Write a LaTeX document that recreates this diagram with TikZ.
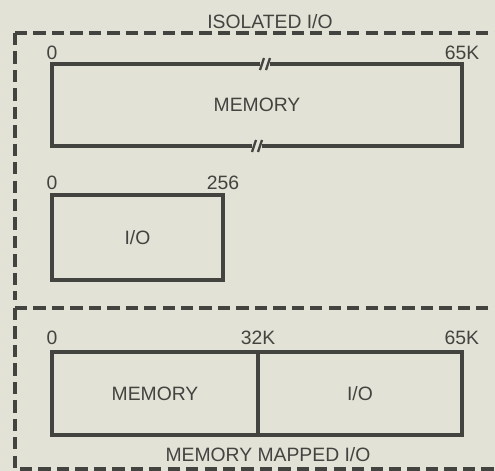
\documentclass[tikz,border=0pt]{standalone}
\usepackage{fontspec}
\setmainfont{Liberation Sans}
\usetikzlibrary{positioning}
\definecolor{paperbg}{HTML}{E3E2D6}
\definecolor{inkline}{HTML}{434340}

\begin{document}
\begin{tikzpicture}[x=0.02cm, y=-0.02cm,
  blk/.style={draw=inkline, line width=1.9pt, inner sep=0pt, outer sep=0pt, minimum height=1.66cm, font=\fontsize{11}{13}\selectfont\color{inkline}},
  lbl/.style={inner sep=1pt, font=\fontsize{11}{13}\selectfont\color{inkline}},
  frame/.style={draw=inkline, line width=1.8pt, dash pattern=on 7pt off 3.5pt},
  brk/.style={draw=inkline, line width=1.3pt}
]
\fill[paperbg] (0,0) rectangle (495,471);
\useasboundingbox (0,0) rectangle (495,471);

\coordinate (isoTL) at (15,33);
\coordinate (isoBL) at (15,300);
\coordinate (mmTL) at (15,308);
\coordinate (mmBL) at (15,469);
\coordinate (isoTR) at (500,33);
\coordinate (mmTR) at (500,308);
\coordinate (mmBR) at (500,469);

\draw[frame] (isoTL) -- (isoTR);
\draw[frame] (isoTL) -- (isoBL);
\draw[frame] (mmTL) -- (mmTR);
\draw[frame] (mmTL) -- (mmBL) -- (mmBR);

\node[lbl, above=1pt] (isotitle) at (isoTL -| 270,0) {ISOLATED I/O};
\node[lbl] (mmtitle) at (268,455) {MEMORY MAPPED I/O};

\node[blk, minimum width=8.2cm, minimum height=1.64cm] (mem) at (257,105) {MEMORY};
\node[blk, minimum width=3.42cm, minimum height=1.7cm] (io) at (137.5,237.5) {I/O};
\node[blk, minimum width=4.12cm] (mmem) at (155,393.5) {MEMORY};
\node[blk, minimum width=4.08cm, right=0pt of mmem] (mio) {I/O};

\fill[paperbg, shift={(mem.north)}] (3,-3) rectangle (13,3);
\draw[brk, shift={(mem.north)}] (3,6) -- (7,-6) (9,6) -- (13,-6);
\fill[paperbg, shift={(mem.south)}] (-5,-3) rectangle (5,3);
\draw[brk, shift={(mem.south)}] (-5,6) -- (-1,-6) (1,6) -- (5,-6);

\node[lbl, above=1.5pt of mem.north west] {0};
\node[lbl, above=1.5pt of mem.north east] {65K};
\node[lbl, above=2pt of io.north west] {0};
\node[lbl, above=2pt of io.north east] {256};
\node[lbl, above=3pt of mmem.north west] {0};
\node[lbl, above=3pt of mmem.north east] {32K};
\node[lbl, above=3pt of mio.north east] {65K};
\end{tikzpicture}
\end{document}
